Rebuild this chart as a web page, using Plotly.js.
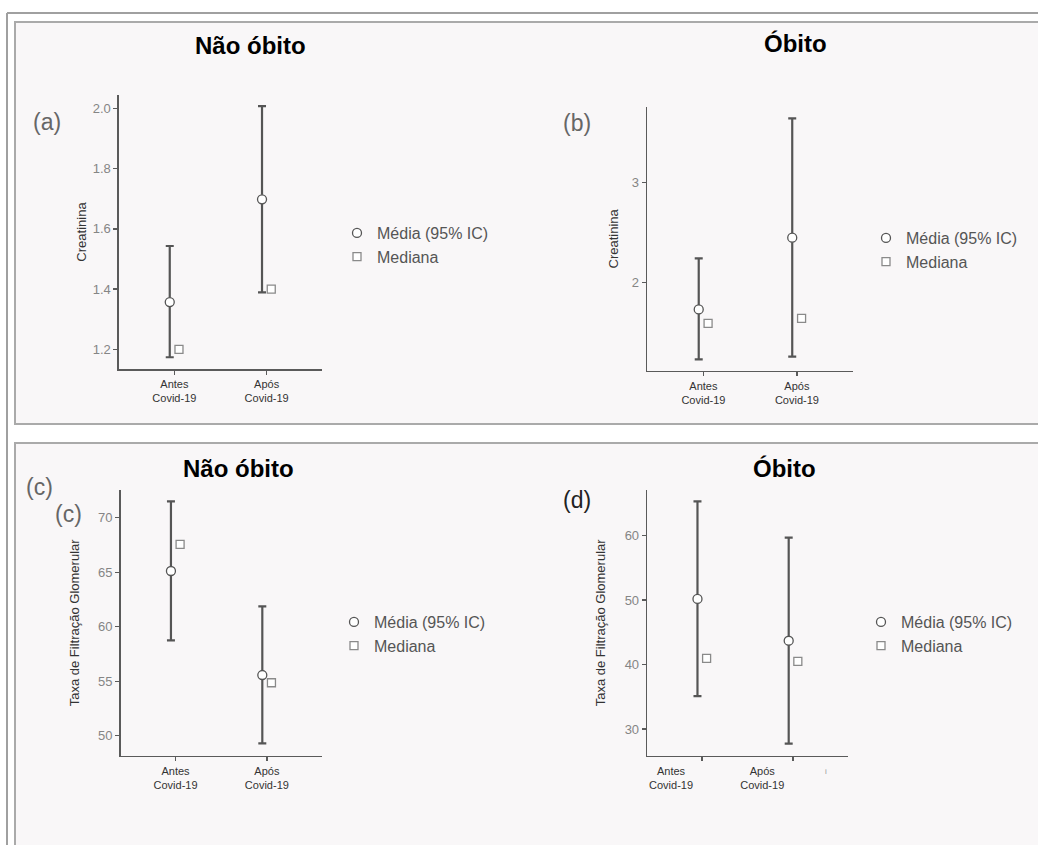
<!DOCTYPE html>
<html>
<head>
<meta charset="utf-8">
<script src="https://cdn.plot.ly/plotly-3.0.1.min.js"></script>
<style>html,body{margin:0;padding:0;background:#fff;}#chart{width:1038px;height:845px;}</style>
</head>
<body>
<div id="chart"></div>
<script>
// ---- data ----
const categories = ['Antes<br>Covid-19', 'Após<br>Covid-19'];
const seriesNames = ['Média (95% IC)', 'Mediana'];
const panelTitles = ['Não óbito', 'Óbito', 'Não óbito', 'Óbito'];
const yTitles = ['Creatinina', 'Creatinina', 'Taxa de Filtração Glomerular', 'Taxa de Filtração Glomerular'];

const creatNaoMean = [1.357, 1.698];
const creatNaoUpper = [1.543, 2.007];
const creatNaoLower = [1.174, 1.389];
const creatNaoMedian = [1.20, 1.40];

const creatObitoMean = [1.733, 2.45];
const creatObitoUpper = [2.243, 3.644];
const creatObitoLower = [1.233, 1.26];
const creatObitoMedian = [1.593, 1.643];

const tfgNaoMean = [65.11, 55.57];
const tfgNaoUpper = [71.5, 61.87];
const tfgNaoLower = [58.75, 49.3];
const tfgNaoMedian = [67.56, 54.86];

const tfgObitoMean = [50.18, 43.7];
const tfgObitoUpper = [65.34, 59.69];
const tfgObitoLower = [35.12, 27.74];
const tfgObitoMedian = [40.97, 40.5];

// ---- layout helpers ----
const W = 1038, H = 845;
const fx = p => p / W;
const fy = p => 1 - p / H;
const FONT = 'Liberation Sans, Arial, Helvetica, sans-serif';
const AXC = '#5a5a5a';

const panels = [
  {mean: creatNaoMean, up: creatNaoUpper, lo: creatNaoLower, med: creatNaoMedian,
   xd: [119, 322], yd: [95, 369], yr: [1.135, 2.044], dtick: 0.2, fmt: '.1f', standoff: 3,
   legend: 'legend', lx: 337, ly: 245, shift: 0},
  {mean: creatObitoMean, up: creatObitoUpper, lo: creatObitoLower, med: creatObitoMedian,
   xd: [647.3, 853], yd: [107, 370.7], yr: [1.12, 3.757], dtick: 1, fmt: '', standoff: 10,
   legend: 'legend2', lx: 866, ly: 250, shift: 0},
  {mean: tfgNaoMean, up: tfgNaoUpper, lo: tfgNaoLower, med: tfgNaoMedian,
   xd: [120.7, 321.7], yd: [490, 755.7], yr: [48.17, 72.54], dtick: 5, fmt: '', standoff: 15,
   legend: 'legend3', lx: 334, ly: 634, shift: 0},
  {mean: tfgObitoMean, up: tfgObitoUpper, lo: tfgObitoLower, med: tfgObitoMedian,
   xd: [647.3, 848], yd: [490, 755.7], yr: [25.86, 67.09], dtick: 10, fmt: '', standoff: 16,
   legend: 'legend4', lx: 861, ly: 634, shift: -31}
];

const traces = [];
const layout = {
  width: W, height: H, autosize: false,
  margin: {l: 0, r: 0, t: 0, b: 0},
  paper_bgcolor: '#ffffff', plot_bgcolor: 'rgba(0,0,0,0)',
  font: {family: FONT, color: '#333'},
  scattermode: 'group', scattergap: 0.8,
  showlegend: true,
  shapes: [
    {type: 'line', xref: 'paper', yref: 'paper', x0: fx(7), x1: 1.01, y0: fy(13), y1: fy(13), line: {color: '#a0a0a0', width: 2}, layer: 'below'},
    {type: 'line', xref: 'paper', yref: 'paper', x0: fx(7), x1: fx(7), y0: fy(13), y1: -0.01, line: {color: '#a0a0a0', width: 2}, layer: 'below'},
    {type: 'rect', xref: 'paper', yref: 'paper', x0: fx(15), x1: 1.01, y0: fy(424), y1: fy(22), fillcolor: '#f9f7f8', line: {color: '#aaaaaa', width: 2}, layer: 'below'},
    {type: 'rect', xref: 'paper', yref: 'paper', x0: fx(15), x1: 1.01, y0: -0.01, y1: fy(443), fillcolor: '#f9f7f8', line: {color: '#aaaaaa', width: 2}, layer: 'below'}
  ],
  annotations: []
};

panels.forEach((p, i) => {
  const n = i + 1;
  const xa = n === 1 ? 'x' : 'x' + n;
  const ya = n === 1 ? 'y' : 'y' + n;
  const xk = n === 1 ? 'xaxis' : 'xaxis' + n;
  const yk = n === 1 ? 'yaxis' : 'yaxis' + n;

  traces.push({
    type: 'scatter', mode: 'markers', name: seriesNames[0],
    x: categories, y: p.mean, xaxis: xa, yaxis: ya,
    offsetgroup: 'mean', legend: p.legend,
    error_y: {type: 'data', symmetric: false,
      array: p.up.map((u, k) => u - p.mean[k]),
      arrayminus: p.lo.map((l, k) => p.mean[k] - l),
      color: '#555555', thickness: 2.2, width: 4},
    marker: {symbol: 'circle', size: 9, color: '#ffffff', line: {color: '#555555', width: 1.3}},
    hoverinfo: 'y'
  });
  traces.push({
    type: 'scatter', mode: 'markers', name: seriesNames[1],
    x: categories, y: p.med, xaxis: xa, yaxis: ya,
    offsetgroup: 'median', legend: p.legend,
    marker: {symbol: 'square', size: 8, color: '#ffffff', line: {color: '#8a8a8a', width: 1.3}},
    hoverinfo: 'y'
  });

  layout[xk] = {
    domain: [fx(p.xd[0]), fx(p.xd[1])], anchor: ya,
    type: 'category', range: [-0.6, 1.6],
    showline: true, linecolor: AXC, linewidth: 1.6, mirror: false,
    showgrid: false, zeroline: false,
    ticks: 'outside', ticklen: 4, tickwidth: 1.6, tickcolor: AXC,
    tickfont: {size: 11, color: '#333'},
    ticklabelshift: p.shift
  };
  layout[yk] = {
    domain: [fy(p.yd[1]), fy(p.yd[0])], anchor: xa,
    range: p.yr, dtick: p.dtick, tickformat: p.fmt,
    showline: true, linecolor: AXC, linewidth: 1.6,
    showgrid: false, zeroline: false,
    ticks: 'outside', ticklen: 4, tickwidth: 1.4, tickcolor: AXC,
    tickfont: {size: 13, color: '#858585'},
    title: {text: yTitles[i], font: {size: 13, color: '#333'}, standoff: p.standoff}
  };
  layout[p.legend] = {
    x: fx(p.lx), y: fy(p.ly), xanchor: 'left', yanchor: 'middle',
    xref: 'paper', yref: 'paper',
    bgcolor: 'rgba(0,0,0,0)', borderwidth: 0,
    font: {size: 16, color: '#555', family: FONT},
    tracegroupgap: 0
  };
});

// panel titles
const titlePos = [[250, 45], [795, 44], [238, 468], [784, 468]];
panelTitles.forEach((t, i) => {
  layout.annotations.push({text: t, xref: 'paper', yref: 'paper',
    x: fx(titlePos[i][0]), y: fy(titlePos[i][1]), xanchor: 'center', yanchor: 'middle',
    showarrow: false, font: {size: 24, color: '#000', weight: 'bold', family: FONT}});
});

// panel letters
const letters = [
  ['(a)', 47, 122, '#666'], ['(b)', 577, 123, '#666'],
  ['(c)', 39, 487, '#666'], ['(c)', 68, 514, '#666'], ['(d)', 577, 500, '#222']
];
letters.forEach(l => {
  layout.annotations.push({text: l[0], xref: 'paper', yref: 'paper',
    x: fx(l[1]), y: fy(l[2]), xanchor: 'center', yanchor: 'middle',
    showarrow: false, font: {size: 23, color: l[3], family: FONT}});
});
layout.annotations.push({text: 'i', xref: 'paper', yref: 'paper', x: fx(826), y: fy(771),
  xanchor: 'center', yanchor: 'middle', showarrow: false, font: {size: 8, color: '#999', family: FONT}});

Plotly.newPlot('chart', traces, layout, {displayModeBar: false, staticPlot: true});
</script>
</body>
</html>
